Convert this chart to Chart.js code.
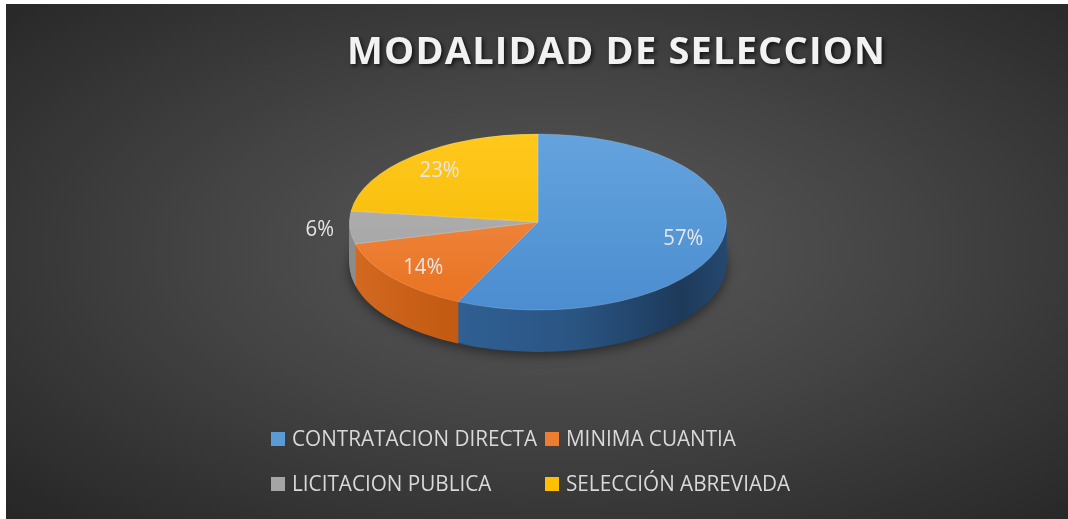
<!DOCTYPE html>
<html>
<head>
<meta charset="utf-8">
<style>
  html, body { margin: 0; padding: 0; background: #fff; }
  #wrap {
    position: absolute; left: 6px; top: 4px; width: 1062px; height: 515px;
    background: radial-gradient(ellipse farthest-corner at 52% 48%, #5a5a5a 0%, #444 45%, #262626 100%);
  }
  canvas { display: block; }
</style>
<script src="https://cdn.jsdelivr.net/npm/chart.js"></script>
</head>
<body>
<div id="wrap"><canvas id="pieChart" width="1062" height="515"></canvas></div>

<script>
  // data
  const chartTitle = 'MODALIDAD DE SELECCION';
  const categories = ['CONTRATACION DIRECTA', 'MINIMA CUANTIA', 'LICITACION PUBLICA', 'SELECCIÓN ABREVIADA'];
  const shares = [57, 14, 6, 23];

  // look
  const topColors = [['#64a3dd', '#4b8dd0'], ['#f39352', '#e8711f'], ['#b6b6b6', '#a0a0a0'], ['#ffc81c', '#f2b700']];
  const legendColors = ['#5b9bd5', '#ed7d31', '#a5a5a5', '#ffc000'];
  const sideStops = [
    [[0, '#3368a0'], [0.3, '#2f5f93'], [0.6, '#2a5482'], [0.88, '#1d3a5a'], [1, '#25486e']],
    [[0, '#d46a22'], [0.25, '#c45b13'], [1, '#b05010']],
    [[0, '#8c8c8c'], [1, '#7a7a7a']],
    [[0, '#c99c00'], [1, '#b58c00']]
  ];
  const pieLook = { cy: 218, ry: 88, depth: 42 };

  function textScaled(ctx, txt, x, y, sx) {
    ctx.save();
    ctx.translate(x, y);
    ctx.scale(sx, 1);
    ctx.fillText(txt, 0, 0);
    ctx.restore();
  }

  const pie3d = {
    id: 'pie3d',
    beforeDatasetsDraw(chart) {
      const arcs = chart.getDatasetMeta(0).data;
      const { x, y, outerRadius: r } = arcs[0];
      const k = pieLook.ry / r;
      const ctx = chart.ctx;
      for (let d = pieLook.depth; d >= 1; d--) {
        ctx.save();
        if (d === pieLook.depth) {
          ctx.shadowColor = 'rgba(0,0,0,0.5)';
          ctx.shadowBlur = 12;
          ctx.shadowOffsetY = 3;
        }
        ctx.translate(x, pieLook.cy + d);
        ctx.scale(1, k);
        ctx.translate(-x, -y);
        arcs.forEach((a, i) => {
          const g = ctx.createLinearGradient(x - r, 0, x + r, 0);
          sideStops[i].forEach(s => g.addColorStop(s[0], s[1]));
          ctx.fillStyle = g;
          ctx.beginPath();
          ctx.moveTo(x, y);
          ctx.arc(x, y, r, a.startAngle, a.endAngle);
          ctx.closePath();
          ctx.fill();
        });
        ctx.restore();
      }
      ctx.save();
      ctx.translate(x, pieLook.cy);
      ctx.scale(1, k);
      ctx.translate(-x, -y);
    },
    afterDatasetsDraw(chart) {
      const ctx = chart.ctx;
      ctx.restore();
      // percentage labels
      const arcs = chart.getDatasetMeta(0).data;
      const { x, outerRadius: r } = arcs[0];
      const k = pieLook.ry / r;
      const total = shares.reduce((s, v) => s + v, 0);
      ctx.save();
      ctx.font = '21px "Open Sans"';
      ctx.fillStyle = '#e6e6e6';
      ctx.textBaseline = 'alphabetic';
      const sx = 40 / ctx.measureText('57%').width;
      arcs.forEach((a, i) => {
        const mid = (a.startAngle + a.endAngle) / 2;
        const f = shares[i] / total < 0.1 ? 1.16 : 0.79;
        const px = x + Math.cos(mid) * r * f;
        const py = pieLook.cy + Math.sin(mid) * r * f * k;
        const txt = Math.round(shares[i] / total * 100) + '%';
        const w = ctx.measureText(txt).width * sx;
        textScaled(ctx, txt, px - w / 2, py + 7.5, sx);
      });
      ctx.restore();
    },
    afterDraw(chart) {
      const ctx = chart.ctx;
      // title
      ctx.save();
      ctx.font = 'bold 38px "Open Sans"';
      const w0 = ctx.measureText(chartTitle).width;
      ctx.letterSpacing = ((538 - w0) / (chartTitle.length - 1)).toFixed(2) + 'px';
      ctx.fillStyle = '#f2f2f2';
      ctx.shadowColor = 'rgba(0,0,0,0.7)';
      ctx.shadowBlur = 4;
      ctx.shadowOffsetX = 2;
      ctx.shadowOffsetY = 2;
      ctx.textBaseline = 'alphabetic';
      ctx.fillText(chartTitle, 341, 60);
      ctx.restore();

      // legend, two columns
      ctx.save();
      ctx.font = '22px "Open Sans"';
      const sx = 245 / ctx.measureText(categories[0]).width;
      const colX = [265, 539];
      const rowY = [442, 487];
      categories.forEach((c, i) => {
        const cx = colX[i % 2], by = rowY[Math.floor(i / 2)];
        ctx.fillStyle = legendColors[i];
        ctx.fillRect(cx, by - 14, 14, 14);
        ctx.fillStyle = '#d9d9d9';
        textScaled(ctx, c, cx + 21, by, sx);
      });
      ctx.restore();
    }
  };

  const ctx = document.getElementById('pieChart').getContext('2d');
  new Chart(ctx, {
    type: 'pie',
    data: {
      labels: categories,
      datasets: [{
        data: shares,
        backgroundColor: (c) => {
          const area = c.chart.chartArea;
          if (!area) return legendColors[c.dataIndex];
          const g = c.chart.ctx.createLinearGradient(0, area.top, 0, area.bottom);
          g.addColorStop(0, topColors[c.dataIndex][0]);
          g.addColorStop(1, topColors[c.dataIndex][1]);
          return g;
        },
        borderColor: 'rgba(255,255,255,0.25)',
        borderWidth: 1
      }]
    },
    options: {
      responsive: false,
      animation: false,
      layout: { padding: { left: 2, right: 0, top: 60, bottom: 77 } },
      plugins: {
        legend: { display: false },
        title: { display: false },
        tooltip: { enabled: false }
      }
    },
    plugins: [pie3d]
  });
</script>
</body>
</html>
